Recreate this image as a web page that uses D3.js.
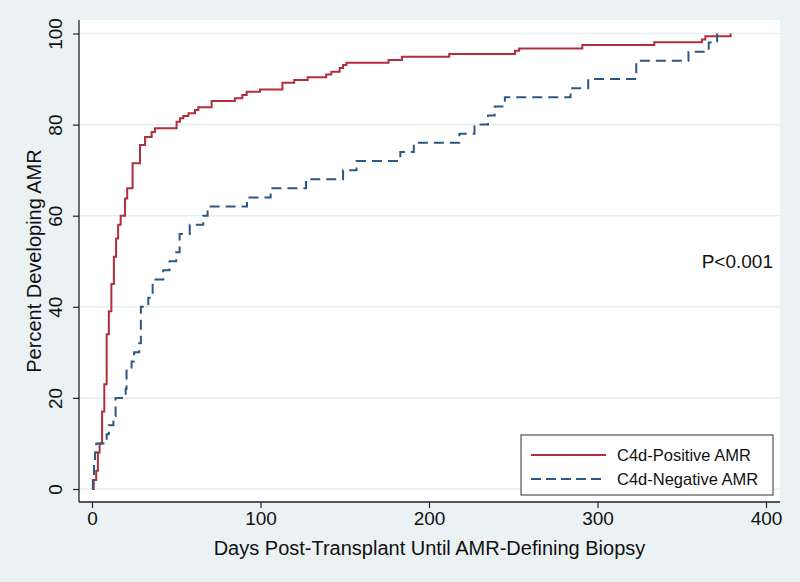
<!DOCTYPE html>
<html>
<head>
<meta charset="utf-8">
<script src="https://cdn.jsdelivr.net/npm/d3@7"></script>
<style>
  html, body { margin: 0; padding: 0; background: #eaf2f3; }
  svg { display: block; font-family: "Liberation Sans", Arial, Helvetica, sans-serif; }
</style>
</head>
<body>
<svg id="chart" width="800" height="582"></svg>
<script>
// ---- Data ----
const positiveDays = [0, 1, 2.5, 3.5, 4.5, 6, 7.3, 8.7, 10, 11.5, 13, 14.3, 15.5, 17, 19.6, 20.9, 24.1, 28.5, 31.5, 35.4, 37.4, 50.2, 52.2, 54.2, 57.2, 61.1, 63.1, 71, 84.8, 89.2, 91.8, 99.7, 113, 120, 128, 139, 142, 147, 149, 151, 176, 184, 212, 251, 253.5, 291, 333.7, 362, 364, 379];
const positivePct  = [0, 2, 4, 8, 10, 17, 23, 34, 39, 45, 51, 55, 58, 60, 63.8, 66, 71.5, 75.5, 77.3, 78.4, 79.2, 80.6, 81.4, 81.9, 82.5, 83.2, 83.8, 85.2, 85.8, 86.5, 87.2, 87.7, 89.2, 89.8, 90.4, 91, 91.6, 92.4, 93.1, 93.6, 94.2, 94.9, 95.5, 96.2, 96.7, 97.5, 98.1, 98.7, 99.4, 100];

const negativeDays = [0, 0.5, 1.2, 1.8, 2.5, 8.7, 10, 12.7, 14, 20, 20.5, 23.5, 25, 28, 29, 33.4, 36, 42.3, 46, 50, 52, 58, 66, 68.6, 92, 106, 127, 149, 157, 183, 191, 218, 227, 235, 239, 245, 284, 294.5, 323, 354, 366, 371];
const negativePct  = [0, 2, 6, 8, 10, 12, 14, 16, 20, 22, 26, 28, 30, 32, 40, 42, 46, 48, 50, 52, 56, 58, 60, 62, 64, 66, 68, 70, 72, 74, 76, 78, 80, 82, 84, 86, 88, 90, 94, 96, 98, 100];

const xTicks = [0, 100, 200, 300, 400];
const yTicks = [0, 20, 40, 60, 80, 100];
const seriesNames = ["C4d-Positive AMR", "C4d-Negative AMR"];
const pValueText = "P<0.001";
const xTitle = "Days Post-Transplant Until AMR-Defining Biopsy";
const yTitle = "Percent Developing AMR";

// ---- Layout ----
const svg = d3.select("#chart");
const W = 800, H = 582;
const plot = { left: 79, right: 780, top: 20, bottom: 502 };
const colors = ["#b02f3b", "#2b5884"];

svg.append("rect").attr("width", W).attr("height", H).attr("fill", "#eaf2f3");
svg.append("rect")
  .attr("x", plot.left).attr("y", plot.top)
  .attr("width", plot.right - plot.left).attr("height", plot.bottom - plot.top)
  .attr("fill", "#ffffff");

const x = d3.scaleLinear().domain([0, 400]).range([92, 766]);
const y = d3.scaleLinear().domain([0, 100]).range([489, 33.5]);

// gridlines
svg.append("g").selectAll("line").data(yTicks).join("line")
  .attr("x1", plot.left).attr("x2", plot.right)
  .attr("y1", d => y(d)).attr("y2", d => y(d))
  .attr("stroke", "#e6eff1").attr("stroke-width", 1.6);

// axes
const xAxis = d3.axisBottom(x).tickValues(xTicks).tickSize(6).tickPadding(4);
const gx = svg.append("g").attr("transform", `translate(0,${plot.bottom})`).call(xAxis);
gx.select(".domain").attr("d", `M${plot.left},0H${plot.right}`).attr("stroke", "#222").attr("stroke-width", 1.3);
gx.selectAll(".tick line").attr("stroke", "#222").attr("stroke-width", 1.2);
gx.selectAll(".tick text").attr("font-size", 19).attr("fill", "#111")
  .attr("font-family", "'Liberation Sans', Arial, sans-serif");

const yAxis = d3.axisLeft(y).tickValues(yTicks).tickSize(6).tickPadding(0);
const gy = svg.append("g").attr("transform", `translate(${plot.left},0)`).call(yAxis);
gy.select(".domain").attr("d", `M0,${plot.top}V${plot.bottom}`).attr("stroke", "#222").attr("stroke-width", 1.3);
gy.selectAll(".tick line").attr("stroke", "#222").attr("stroke-width", 1.2);
gy.selectAll(".tick text")
  .attr("font-size", 19).attr("fill", "#111")
  .attr("font-family", "'Liberation Sans', Arial, sans-serif")
  .attr("text-anchor", "middle")
  .attr("x", 0).attr("dy", 0)
  .attr("transform", "translate(-24,0) rotate(-90)")
  .attr("dominant-baseline", "central");

// axis titles
svg.append("text")
  .attr("x", (plot.left + plot.right) / 2 + 0).attr("y", 555)
  .attr("text-anchor", "middle").attr("font-size", 20).attr("fill", "#111")
  .text(xTitle);
svg.append("text")
  .attr("transform", `translate(41,${(plot.top + plot.bottom) / 2}) rotate(-90)`)
  .attr("text-anchor", "middle").attr("font-size", 20).attr("fill", "#111")
  .text(yTitle);

// curves
const line = d3.line().x(d => x(d[0])).y(d => y(d[1])).curve(d3.curveStepAfter);
const posData = positiveDays.map((d, i) => [d, positivePct[i]]);
const negData = negativeDays.map((d, i) => [d, negativePct[i]]);

svg.append("path").datum(posData).attr("d", line)
  .attr("fill", "none").attr("stroke", colors[0]).attr("stroke-width", 2);
svg.append("path").datum(negData).attr("d", line)
  .attr("fill", "none").attr("stroke", colors[1]).attr("stroke-width", 2)
  .attr("stroke-dasharray", "10,6");

// p-value
svg.append("text").attr("x", 773).attr("y", 268).attr("text-anchor", "end")
  .attr("font-size", 19).attr("fill", "#111").text(pValueText);

// legend
const lg = svg.append("g");
lg.append("rect").attr("x", 521).attr("y", 435).attr("width", 252).attr("height", 60)
  .attr("fill", "#fff").attr("stroke", "#333").attr("stroke-width", 1);
const legY = [455, 479];
seriesNames.forEach((name, i) => {
  lg.append("line").attr("x1", 531).attr("x2", 606).attr("y1", legY[i]).attr("y2", legY[i])
    .attr("stroke", colors[i]).attr("stroke-width", 2)
    .attr("stroke-dasharray", i === 1 ? "10,5" : null);
  lg.append("text").attr("x", 617).attr("y", legY[i]).attr("dy", "0.35em")
    .attr("font-size", 16.5).attr("fill", "#111").text(name);
});
</script>
</body>
</html>
